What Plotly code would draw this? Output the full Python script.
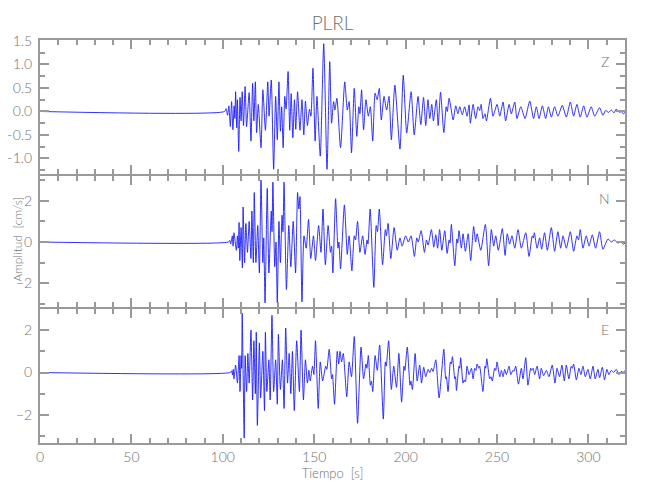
import plotly.graph_objects as go

# ---------------- data (time [s], amplitude [cm/s]) ----------------
station = "PLRL"
components = ["Z", "N", "E"]
x_ticks = [0, 50, 100, 150, 200, 250, 300]

z_trace = [
    (0, 0), (101.0, 0), (101.8, 0.06), (102.6, -0.08), (103.3, 0.12), (104.1, -0.32), (104.8, 0.21),
    (105.5, -0.39), (106.2, 0.12), (106.6, -0.15), (107.0, 0.42), (107.6, -0.35), (108.0, 0.25),
    (108.7, -0.85), (109.4, 0.30), (110.0, -0.20), (110.6, 0.42), (111.3, -0.30), (112.2, 0.53),
    (113.0, -0.32), (114.4, 0.40), (115.4, -0.63), (116.3, 0.60), (117.0, -0.20), (117.8, 0.63),
    (118.5, -0.45), (119.4, 0.15), (120.9, -0.77), (121.9, 0.46), (123.3, -0.40), (124.6, 0.63),
    (125.3, -0.10), (126.5, 0.67), (127.8, -1.23), (128.9, 0.32), (129.8, -0.60), (130.7, 0.63),
    (131.5, -0.42), (132.2, 0.10), (133.0, -0.77), (133.9, 0.32), (134.6, 0.05), (135.7, 0.85),
    (136.6, -0.40), (137.4, 0.38), (138.3, -0.56), (139.2, 0.25), (139.9, -0.38), (140.9, 0.42),
    (142.2, -0.40), (143.3, 0.25), (144.3, -0.50), (145.2, 0.22), (146.3, -0.30), (147.4, 0.05),
    (148.2, -0.10), (149.3, 0.92), (150.5, -0.63), (151.5, 0.32), (153.3, -0.95), (155.2, 1.44),
    (157.0, -1.23), (158.5, 1.06), (159.5, -0.25), (160.6, 0.21), (161.3, 0.03), (162.4, 0.28),
    (164.4, -0.77), (166.7, 0.63), (168.1, 0.03), (169.1, 0.21), (170.4, -0.88), (171.9, 0.49),
    (173.3, -0.53), (174.4, 0.10), (175.0, -0.05), (175.9, 0.46), (177.0, -0.39), (178.3, 0.25),
    (179.6, -0.10), (180.7, 0.10), (182.0, -0.63), (183.3, 0.39), (184.4, 0.25), (185.6, 0.49),
    (186.7, -0.18), (188.2, 0.32), (189.6, 0.03), (190.9, 0.32), (192.2, -0.60), (194.1, 0.56),
    (196.9, -0.80), (198.7, 0.77), (200.6, -0.46), (203.0, 0.42), (204.7, -0.50), (206.8, 0.32),
    (208.3, -0.28), (209.8, 0.30), (211.0, -0.30), (212.2, 0.25), (213.2, -0.15), (214.3, 0.15),
    (215.2, -0.20), (216.8, 0.25), (217.8, -0.30), (219.1, 0.41), (220.9, -0.45), (222.2, 0.10),
    (222.8, 0.00), (223.8, 0.28), (226.0, -0.18), (227.4, 0.12), (228.6, -0.05), (229.6, 0.10),
    (231.0, -0.07), (232.3, 0.10), (233.6, -0.10), (234.7, 0.14), (235.4, -0.25), (236.9, 0.15),
    (238.3, -0.15), (239.6, 0.10), (240.5, 0.02), (241.3, 0.15), (242.3, -0.15), (243.4, -0.05),
    (244.2, -0.20), (246.4, 0.28), (247.8, -0.10), (250.0, 0.15), (251.5, -0.10), (253.3, 0.20),
    (254.7, -0.20), (256.6, 0.15), (257.8, -0.05), (259.7, 0.20), (260.9, -0.15), (263.0, 0.10),
    (265.3, -0.15), (267.9, 0.22), (270.0, -0.15), (271.5, 0.10), (273.0, -0.15), (274.8, 0.12),
    (276.6, -0.15), (278.1, 0.10), (279.7, -0.12), (281.5, 0.10), (283.3, -0.10), (285.7, 0.13),
    (287.9, -0.12), (290.1, 0.20), (291.9, -0.10), (293.7, 0.15), (295.5, -0.12), (297.4, 0.12),
    (299.2, -0.12), (301.5, 0.10), (303.4, -0.10), (306.1, 0.08), (307.9, -0.08), (309.4, 0.02),
    (311.0, -0.02), (312.5, 0.03), (314.0, -0.03), (315.2, 0.05), (317.0, -0.02), (318.0, 0.00),
    (319.0, -0.05), (320.0, -0.02),
]

n_trace = [
    (0, 0), (103.0, 0), (103.8, 0.08), (104.3, -0.10), (105.2, 0.30), (105.6, -0.20), (106.1, 0.45),
    (107.4, -0.40), (108.0, 0.30), (108.5, -0.30), (108.9, 0.95), (109.3, -0.90), (110.0, 0.70),
    (110.7, -1.25), (111.1, 1.70), (111.9, -1.00), (112.6, 0.90), (113.5, -0.50), (114.4, 1.00),
    (115.4, -0.80), (115.9, 1.50), (116.7, -1.00), (117.2, 2.40), (118.1, -1.00), (119.1, 0.80),
    (120.0, -1.50), (120.9, 3.00), (121.9, -1.00), (122.4, 0.20), (123.1, -2.95), (124.3, 2.60),
    (125.2, -1.50), (126.5, 1.50), (126.9, 0.50), (127.4, 2.90), (128.4, -1.20), (129.1, 0.00),
    (129.8, -2.95), (130.7, 1.00), (131.5, -1.00), (132.4, 1.30), (132.9, 0.50), (133.5, 2.90),
    (134.8, -2.30), (136.1, 0.80), (137.2, -1.20), (138.5, 1.00), (139.8, -1.50), (140.9, 2.40),
    (141.6, 1.60), (142.2, 2.20), (143.3, -2.90), (144.4, 0.30), (145.6, -0.30), (146.9, 1.10),
    (148.1, -0.80), (149.6, 0.30), (150.7, -0.90), (152.4, 0.80), (153.7, -0.50), (154.8, 1.60),
    (156.1, -1.10), (157.6, 0.80), (158.9, -0.50), (159.5, -0.20), (160.2, -1.50), (161.7, 2.10),
    (163.0, -0.30), (163.5, 0.00), (164.4, -1.30), (166.5, 1.80), (168.1, -0.60), (169.1, 0.30),
    (170.6, -1.40), (171.9, 0.30), (172.6, 0.10), (173.7, 1.00), (175.0, -0.50), (176.5, 0.30),
    (177.8, -0.60), (178.9, 0.10), (179.4, -0.10), (180.6, 1.60), (182.6, -2.20), (183.9, 0.80),
    (184.6, 0.50), (185.6, 1.60), (187.4, -1.10), (188.9, 0.60), (189.5, 0.30), (190.4, 0.90),
    (191.9, -0.80), (193.7, 0.70), (195.4, -0.40), (196.9, 0.20), (198.1, -0.20), (200.0, 0.30),
    (201.5, 0.00), (203.0, 0.30), (204.8, -0.70), (206.1, 0.20), (206.9, 0.00), (208.5, 0.55),
    (210.3, -0.50), (211.4, 0.10), (212.3, -0.15), (214.1, 0.60), (215.4, -0.25), (216.5, 0.35),
    (217.5, -0.30), (218.6, 0.60), (219.8, -0.40), (221.4, 0.55), (222.7, -0.55), (223.8, 0.10),
    (224.3, -0.05), (225.0, 0.85), (226.9, -1.15), (228.0, 0.15), (228.5, -0.05), (229.2, 0.55),
    (230.5, -0.30), (231.4, 0.40), (232.7, -0.45), (234.2, 0.40), (235.6, -0.90), (237.2, 0.75),
    (238.3, 0.00), (239.1, 0.40), (241.1, -0.40), (243.6, 0.85), (245.4, -1.15), (246.9, 0.60),
    (248.2, -0.20), (249.3, 0.30), (250.7, -0.40), (252.9, 0.65), (254.4, -0.65), (255.6, 0.40),
    (256.9, -0.10), (258.2, 0.30), (259.7, -0.30), (261.5, 0.60), (263.3, -0.30), (265.7, 0.45),
    (267.5, -0.70), (269.3, 0.30), (269.9, 0.20), (270.4, 0.45), (271.9, -0.30), (273.3, 0.20),
    (274.4, -0.35), (276.0, 0.45), (277.5, -0.40), (279.7, 0.70), (281.5, -0.45), (283.3, 0.50),
    (284.8, -0.30), (286.1, 0.30), (287.9, -0.30), (290.1, 0.50), (291.9, -0.45), (293.7, 0.30),
    (294.6, 0.10), (295.5, 0.60), (297.0, -0.30), (298.8, 0.30), (300.3, -0.20), (302.1, 0.35),
    (303.9, -0.30), (306.1, 0.50), (307.9, -0.35), (310.7, 0.15), (312.5, 0.00), (314.3, 0.10),
    (316.1, -0.05), (317.9, 0.00), (319.0, -0.10), (320.0, -0.05),
]

e_trace = [
    (0, 0), (104.0, 0), (104.8, 0.08), (105.3, -0.12), (105.7, 0.15), (106.1, -0.30), (107.0, 0.35),
    (108.0, -0.50), (108.9, 0.80), (109.4, -0.90), (110.0, 0.80), (110.3, 0.20), (110.6, 2.80),
    (111.7, -3.10), (112.2, 0.80), (113.0, -0.90), (113.7, 0.90), (114.4, -0.50), (115.4, 2.00),
    (116.3, -1.30), (117.0, 1.50), (117.8, -1.00), (118.3, 1.90), (118.9, -2.50), (120.0, 1.40),
    (120.7, -1.20), (121.9, 1.00), (122.8, -1.80), (123.3, 1.90), (124.1, -0.90), (125.2, 0.60),
    (125.9, -1.30), (126.9, 2.70), (127.8, -0.90), (128.9, 0.60), (129.8, -1.50), (130.4, 1.80),
    (131.5, -0.80), (132.6, 0.60), (133.5, -1.70), (134.4, 2.10), (135.4, -0.50), (136.3, 0.90),
    (137.2, -1.00), (138.1, 1.00), (139.1, -1.80), (140.4, 1.50), (141.9, -0.90), (142.8, 2.00),
    (144.1, -1.30), (145.2, 0.60), (146.3, -0.50), (147.1, 0.10), (147.8, -0.40), (149.1, 0.30),
    (149.8, -0.10), (150.7, 1.50), (152.2, -1.70), (153.3, 0.50), (154.6, -0.40), (156.3, 0.30),
    (156.9, 0.15), (158.2, 1.10), (159.5, -0.30), (160.0, -0.10), (161.1, -1.50), (162.6, 1.00),
    (163.4, 0.40), (164.1, 1.00), (165.0, 0.50), (165.9, 0.90), (167.8, -1.15), (169.1, 0.50),
    (170.4, -0.20), (171.9, 1.70), (173.7, -2.40), (175.6, 1.20), (177.0, -0.30), (178.3, 0.40),
    (178.8, 0.20), (179.6, 0.80), (180.7, -0.60), (181.3, -0.40), (182.0, -0.90), (183.3, 0.80),
    (184.5, 0.10), (185.8, 1.30), (187.8, -2.20), (188.9, 0.50), (189.4, 0.30), (190.7, 1.50),
    (192.2, -0.80), (193.5, 0.30), (195.0, -0.70), (196.3, 0.90), (197.8, -1.40), (199.1, 0.30),
    (199.6, 0.10), (200.9, 1.20), (202.4, -0.60), (202.9, -0.40), (203.7, -0.80), (205.2, 0.90),
    (206.3, -0.40), (207.7, 0.35), (208.7, -0.50), (209.9, 0.25), (211.0, -0.20), (212.3, 0.15),
    (213.2, 0.00), (214.2, 0.20), (215.0, 0.05), (216.5, 0.60), (218.3, -1.20), (220.9, 1.10),
    (221.9, -0.30), (222.3, -0.20), (223.2, -0.90), (224.5, 0.50), (225.0, 0.40), (225.6, 0.75),
    (226.9, -0.30), (227.3, -0.20), (227.8, -0.85), (229.2, 0.30), (229.6, 0.20), (230.1, 0.70),
    (231.4, -0.50), (232.0, -0.35), (232.7, -0.45), (233.6, 0.30), (234.7, -0.10), (236.0, 0.20),
    (236.9, -0.30), (237.8, 0.20), (238.5, 0.10), (239.1, 0.40), (240.0, 0.20), (240.5, 0.30),
    (242.3, -0.90), (243.4, 0.30), (243.8, 0.20), (244.4, 0.65), (246.0, -0.30), (246.7, -0.20),
    (247.4, -0.40), (248.7, 0.20), (249.3, 0.10), (250.0, 0.50), (251.5, -0.20), (252.4, 0.10),
    (253.3, -0.20), (254.2, 0.15), (255.1, -0.10), (256.6, 0.30), (257.5, -0.10), (258.7, 0.10),
    (259.3, 0.05), (260.2, 0.30), (261.7, -0.55), (263.3, 0.20), (264.2, -0.30), (265.7, 0.70),
    (266.9, -0.60), (268.4, 0.20), (269.0, 0.10), (269.7, 0.20), (270.6, -0.10), (271.9, 0.30),
    (273.3, -0.30), (274.2, 0.20), (275.5, -0.15), (277.0, 0.10), (278.4, -0.20), (280.2, 0.35),
    (281.7, -0.50), (282.8, 0.20), (284.2, -0.20), (285.5, 0.35), (286.8, -0.40), (287.9, 0.35),
    (289.3, -0.30), (290.6, 0.30), (291.2, 0.20), (291.9, 0.40), (293.4, -0.35), (294.8, 0.20),
    (295.9, -0.10), (297.0, 0.30), (298.3, -0.20), (299.7, 0.15), (301.0, -0.30), (302.5, 0.30),
    (303.7, -0.30), (305.2, 0.15), (306.1, -0.25), (307.6, 0.25), (308.8, -0.35), (310.1, 0.15),
    (311.2, -0.10), (312.5, 0.10), (313.8, 0.00), (315.2, 0.15), (316.7, -0.10), (317.9, 0.05),
    (319.0, 0.00), (320.0, 0.10),
]

# axis ranges per panel
z_range, n_range, e_range = [-1.33, 1.52], [-3.15, 3.2], [-3.33, 3.0]

# ---------------- figure ----------------
FONT = "Lato, Liberation Sans, sans-serif"
GREY = "#999999"
TXT = "#707070"
LINE = "#1a1aff"

fig = go.Figure()
traces = [("Z", z_trace, "x3", "y3"), ("N", n_trace, "x2", "y2"), ("E", e_trace, "x", "y")]
for name, data, xa, ya in traces:
    t = [p[0] for p in data]
    v = [p[1] for p in data]
    fig.add_trace(go.Scatter(x=t, y=v, mode="lines", name=name, xaxis=xa, yaxis=ya,
                             line=dict(color=LINE, width=0.9, shape="spline", smoothing=0.6),
                             showlegend=False, hoverinfo="skip"))

tfont = dict(family=FONT, size=14, color=TXT, weight=300)
lfont = dict(family=FONT, size=12, color=TXT, weight=300)
common = dict(showline=True, linecolor=GREY, linewidth=2, mirror="ticks", ticks="inside",
              tickcolor=GREY, tickwidth=1.5, showgrid=False, zeroline=False, automargin=False,
              tickfont=tfont)

xcommon = dict(common, range=[0, 320], tickvals=x_ticks, ticklen=9,
               minor=dict(dtick=10, tick0=0, ticks="inside", ticklen=5, tickcolor=GREY, tickwidth=1.5))
ymin = dict(ticks="inside", ticklen=5, tickcolor=GREY, tickwidth=1.5, tick0=0)

H = 403.0
fig.update_layout(
    width=650, height=500,
    margin=dict(l=32, r=33, t=32, b=65),
    paper_bgcolor="white", plot_bgcolor="white",
    title=dict(text=station, xref="paper", x=0.5, xanchor="center", y=0.97, yanchor="middle",
               font=dict(family=FONT, size=19, color=TXT, weight=300)),
    xaxis=dict(xcommon, anchor="y", ticklabelstandoff=0,
               title=dict(text="Tiempo  [s]", standoff=0, font=dict(lfont, size=13))),
    xaxis2=dict(xcommon, anchor="y2", matches="x", showticklabels=False),
    xaxis3=dict(xcommon, anchor="y3", matches="x", showticklabels=False),
    yaxis=dict(common, domain=[0, 134 / H], range=e_range, tickvals=[-2, 0, 2], ticklen=9,
               ticklabelstandoff=3, minor=dict(ymin, dtick=1)),
    yaxis2=dict(common, domain=[136 / H, 267 / H], range=n_range, tickvals=[-2, 0, 2], ticklen=9,
                ticklabelstandoff=3, minor=dict(ymin, dtick=1)),
    yaxis3=dict(common, domain=[269 / H, 1], range=z_range, tickvals=[-1.0, -0.5, 0.0, 0.5, 1.0, 1.5],
                tickformat=".1f", ticklen=9, ticklabelstandoff=3, minor=dict(ymin, dtick=0.25)),
)

# y-axis title as rotated annotation, left of the N-panel tick labels
fig.add_annotation(text="Amplitud  [cm/s]", xref="paper", yref="paper", x=-0.039, y=0.505,
                   xanchor="center", yanchor="middle", textangle=-90, showarrow=False,
                   font=lfont)

# component labels in upper right corner of each panel
for name, ya, yv in [("Z", "y3", 1.06), ("N", "y2", 2.1), ("E", "y", 2.05)]:
    fig.add_annotation(text=name, x=309, y=yv, xref=ya.replace("y", "x"), yref=ya,
                       showarrow=False, font=tfont)

fig.write_html("out.html")
